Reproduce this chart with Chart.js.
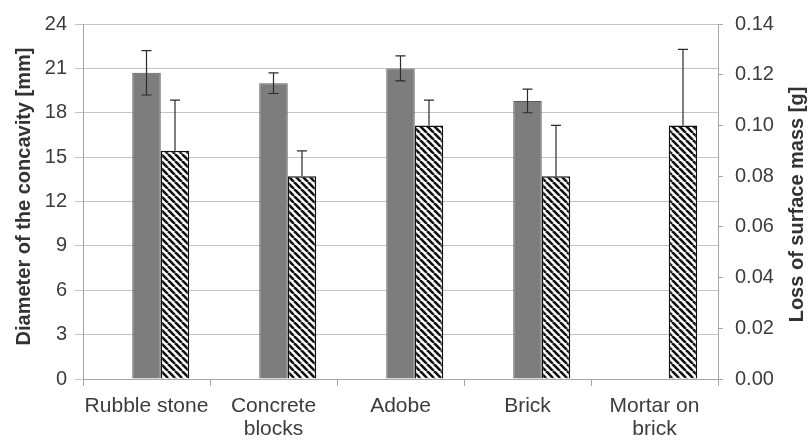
<!DOCTYPE html>
<html lang="en">
<head>
  <meta charset="UTF-8" />
  <title>Concavity diameter and surface mass loss</title>
  <style>
    body {
      margin: 0;
      background: #fff;
    }
    canvas {
      display: block;
    }
  </style>
</head>
<body>
  <canvas id="erosionChart" width="812" height="443"></canvas>

  <script src="https://cdn.jsdelivr.net/npm/chart.js@4"></script>
  <script>
    // substrate types along the x axis
    const categories = [["Rubble stone"], ["Concrete", "blocks"], ["Adobe"], ["Brick"], ["Mortar on", "brick"]];

    // diameter of the concavity [mm], mean and error
    const diameter = [20.7, 20.0, 21.0, 18.8, null];
    const diameterErr = [1.5, 0.7, 0.85, 0.8, null];

    // loss of surface mass [g], mean and error
    const massLoss = [0.09, 0.08, 0.10, 0.08, 0.10];
    const massLossErr = [0.02, 0.01, 0.01, 0.02, 0.03];

    // empty slot so the two series sit to the right of each category
    const spacer = [null, null, null, null, null];

    const leftTitle = "Diameter of the concavity [mm]";
    const rightTitle = "Loss of surface mass [g]";

    const FONT = "'Liberation Sans', Arial, sans-serif";

    // diagonal hatch fill for the mass series
    const makeHatch = () => {
      const size = 7;
      const c = document.createElement("canvas");
      c.width = size;
      c.height = size;
      const g = c.getContext("2d");
      g.fillStyle = "#fff";
      g.fillRect(0, 0, size, size);
      g.strokeStyle = "#111";
      g.lineWidth = 2.6;
      for (let k = -1; k <= 1; k++) {
        g.beginPath();
        g.moveTo(k * size, 0);
        g.lineTo(k * size + size, size);
        g.stroke();
      }
      return g.createPattern(c, "repeat");
    };

    const ctx = document.getElementById("erosionChart").getContext("2d");
    const hatch = makeHatch();

    // error bars: both directions for the grey bars, upward only for the hatched ones
    const errorBars = {
      id: "errorBars",
      afterDatasetsDraw(chart) {
        const c = chart.ctx;
        c.save();
        c.strokeStyle = "#2b2b2b";
        c.lineWidth = 1.2;
        chart.data.datasets.forEach((ds, di) => {
          if (!ds.errors) return;
          const meta = chart.getDatasetMeta(di);
          const scale = chart.scales[ds.yAxisID];
          ds.data.forEach((v, i) => {
            const err = ds.errors[i];
            if (v == null || err == null) return;
            const x = meta.data[i].x;
            const top = scale.getPixelForValue(v + err);
            const bottom = ds.plusOnly ? scale.getPixelForValue(v) : scale.getPixelForValue(v - err);
            c.beginPath();
            c.moveTo(x, top);
            c.lineTo(x, bottom);
            c.moveTo(x - 5, top);
            c.lineTo(x + 5, top);
            if (!ds.plusOnly) {
              c.moveTo(x - 5, bottom);
              c.lineTo(x + 5, bottom);
            }
            c.stroke();
          });
        });
        c.restore();
      }
    };

    // both axis titles read bottom-to-top
    const axisTitles = {
      id: "axisTitles",
      afterDraw(chart) {
        const c = chart.ctx;
        const area = chart.chartArea;
        const mid = (area.top + area.bottom) / 2;
        c.save();
        c.fillStyle = "#333";
        c.font = "bold 20px " + FONT;
        c.textAlign = "center";
        c.textBaseline = "middle";
        [[24, mid - 5, leftTitle], [797, mid + 3, rightTitle]].forEach(([x, y, text]) => {
          c.save();
          c.translate(x, y);
          c.rotate(-Math.PI / 2);
          c.fillText(text, 0, 0);
          c.restore();
        });
        c.restore();
      }
    };

    new Chart(ctx, {
      type: "bar",
      data: {
        labels: categories,
        datasets: [
          {
            label: "",
            data: spacer,
            yAxisID: "y"
          },
          {
            label: leftTitle,
            data: diameter,
            errors: diameterErr,
            yAxisID: "y",
            backgroundColor: "#7d7d7d",
            borderColor: "#5a5a5a",
            borderWidth: 1
          },
          {
            label: rightTitle,
            data: massLoss,
            errors: massLossErr,
            plusOnly: true,
            yAxisID: "y1",
            backgroundColor: hatch,
            borderColor: "#111",
            borderWidth: 1.5
          }
        ]
      },
      options: {
        responsive: false,
        animation: false,
        events: [],
        categoryPercentage: 0.673,
        barPercentage: 1.0,
        layout: { padding: { top: 22, right: 0, bottom: 0, left: 0 } },
        plugins: {
          legend: { display: false },
          tooltip: { enabled: false }
        },
        scales: {
          x: {
            afterFit: (s) => { s.height = 64; },
            grid: {
              offset: true,
              drawOnChartArea: false,
              tickLength: 7,
              color: "#a6a6a6"
            },
            border: { color: "#a6a6a6" },
            ticks: {
              color: "#3c3c3c",
              padding: 9,
              maxRotation: 0,
              autoSkip: false,
              font: { family: FONT, size: 21, lineHeight: 1.1 }
            }
          },
          y: {
            position: "left",
            min: 0,
            max: 24,
            afterFit: (s) => { s.width = 83; },
            grid: {
              color: "#c4c4c4",
              tickLength: 8
            },
            border: { color: "#a6a6a6" },
            ticks: {
              stepSize: 3,
              color: "#3c3c3c",
              padding: 8,
              font: { family: FONT, size: 20 }
            }
          },
          y1: {
            position: "right",
            min: 0,
            max: 0.14,
            afterFit: (s) => { s.width = 94; },
            grid: {
              drawOnChartArea: false,
              color: "#a6a6a6",
              tickLength: 5
            },
            border: { color: "#a6a6a6" },
            ticks: {
              stepSize: 0.02,
              color: "#3c3c3c",
              padding: 12,
              font: { family: FONT, size: 20 },
              callback: (v) => Number(v).toFixed(2)
            }
          }
        }
      },
      plugins: [errorBars, axisTitles]
    });
  </script>
</body>
</html>
